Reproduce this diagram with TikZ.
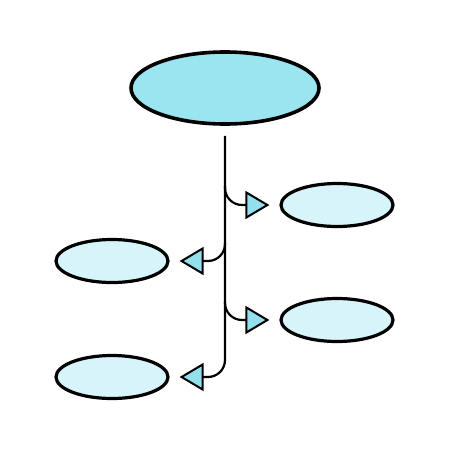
\documentclass[tikz,border=0pt]{standalone}
\usepackage{tikz}
\usetikzlibrary{shapes.geometric,arrows.meta}

\definecolor{topcyan}{RGB}{155,229,241}
\definecolor{leafcyan}{RGB}{214,244,250}
\definecolor{tipcyan}{RGB}{148,223,236}

\tikzset{
    leaf/.style={ellipse, draw, line width=3.2pt, fill=leafcyan, minimum width=112pt, minimum height=43pt, inner sep=0pt},
    branch/.style={line width=2.2pt, rounded corners=17pt, shorten >=10pt, -{Triangle[length=24pt, width=28pt, fill=tipcyan, line width=2pt]}}
}

\begin{document}
\begin{tikzpicture}[x=1pt, y=-1pt]
        \useasboundingbox (0,0) rectangle (450,450);

        \node[ellipse, draw, line width=3.6pt, fill=topcyan, minimum width=188pt, minimum height=72pt, inner sep=0pt] (root) at (225,88) {};

        \node[leaf] (right1) at (337,205) {};
        \node[leaf] (left1) at (112,261) {};
        \node[leaf] (right2) at (337,320) {};
        \node[leaf] (left2) at (112,377) {};

        \coordinate (fork1) at (225,186);
        \coordinate (fork2) at (225,243);
        \coordinate (fork3) at (225,302);

        \draw[branch, shorten <=10pt] (root.south) |- (left2.east);
        \draw[branch] (fork1) |- (right1.west);
        \draw[branch] (fork2) |- (left1.east);
        \draw[branch] (fork3) |- (right2.west);
    \end{tikzpicture}
\end{document}
